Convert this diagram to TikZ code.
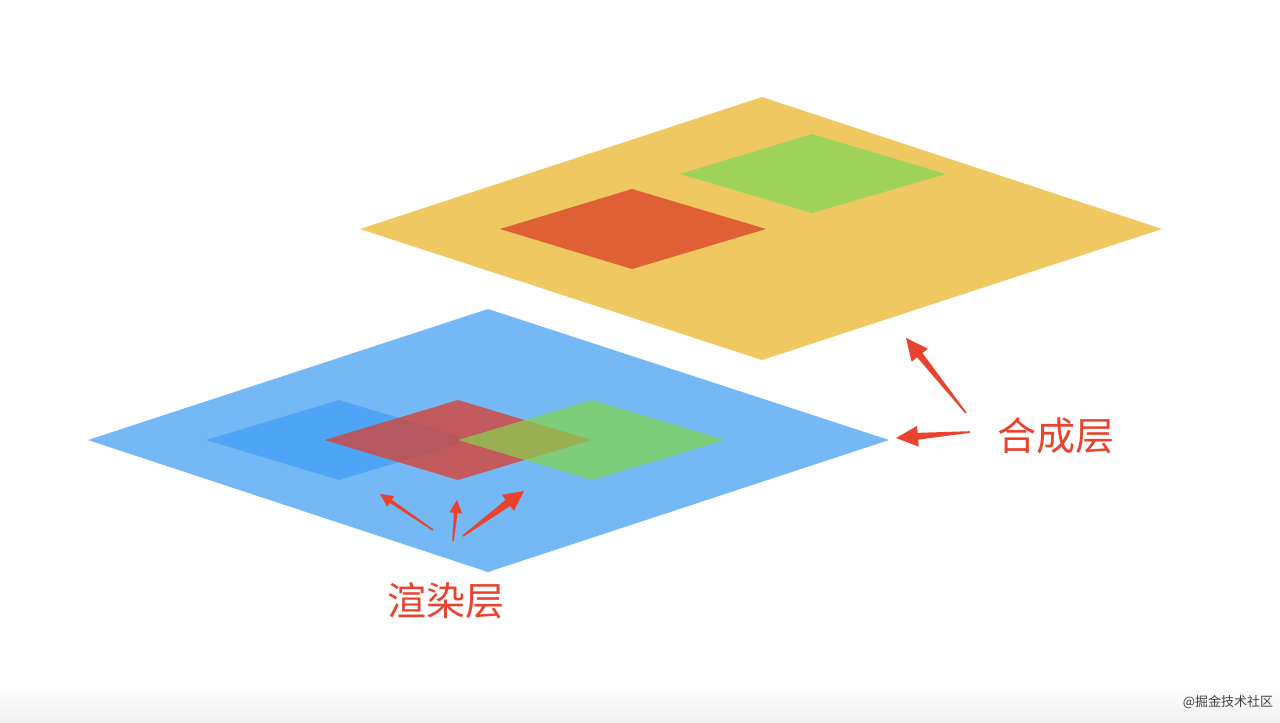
\documentclass[tikz,border=0pt]{standalone}
\usepackage{fontspec}
\newfontfamily\cjk{Noto Sans CJK SC}
\usetikzlibrary{calc}
\definecolor{yel}{HTML}{F0C862}
\definecolor{ygreen}{HTML}{9FD25A}
\definecolor{yred}{HTML}{E06035}
\definecolor{bbig}{HTML}{74B8F5}
\definecolor{bdark}{HTML}{4FA5F5}
\definecolor{bred}{HTML}{C35A5E}
\definecolor{bredd}{HTML}{B5585F}
\definecolor{bgreen}{HTML}{7DCD7A}
\definecolor{bolive}{HTML}{9AAE52}
\definecolor{arrowred}{HTML}{E8432D}
\tikzset{
  lbl/.style={text=arrowred, font=\cjk\fontsize{19.5pt}{22pt}\selectfont, inner sep=0pt},
  wm/.style={text=black!75, font=\cjk\fontsize{6.5pt}{8pt}\selectfont, inner sep=0pt}
}
% tapered arrow: #1 tail, #2 head, #3 shaft half width at head, #4 head half width, #5 head length
\newcommand\taperarrow[5]{%
  \fill[arrowred] ($(#1)!0.4pt!90:(#2)$)
    -- ($($(#2)!#5!(#1)$)!#3!-90:(#1)$)
    -- ($($(#2)!#5!(#1)$)!#4!-90:(#1)$)
    -- (#2)
    -- ($($(#2)!#5!(#1)$)!#4!90:(#1)$)
    -- ($($(#2)!#5!(#1)$)!#3!90:(#1)$)
    -- ($(#1)!0.4pt!-90:(#2)$) -- cycle;}
\begin{document}
\begin{tikzpicture}[x=0.5pt,y=-0.5pt]
\useasboundingbox (0,0) rectangle (1280,723);
\fill[white] (0,0) rectangle (1280,723);
\shade[top color=white, bottom color=black!6] (0,685) rectangle (1280,723);
% yellow composite layer
\fill[yel] (360,229) -- (762,97) -- (1162,229) -- (762,360) -- cycle;
\fill[ygreen] (680,174) -- (812,134) -- (946,174) -- (812,213) -- cycle;
\fill[yred] (500,229) -- (632,189) -- (766,229) -- (632,269) -- cycle;
% blue render layer
\fill[bbig] (88,440) -- (488,309) -- (889,440) -- (488,572) -- cycle;
\fill[bdark] (206,440) -- (339,400) -- (472,440) -- (339,480) -- cycle;
\fill[bred] (325,440) -- (458,400) -- (591,440) -- (458,480) -- cycle;
\fill[bredd] (325,440) -- (398.5,418) -- (472,440) -- (398.5,462) -- cycle;
\fill[bgreen] (459,440) -- (592,400) -- (725,440) -- (592,480) -- cycle;
\fill[bolive] (459,440) -- (525,420) -- (591,440) -- (525,460) -- cycle;
% labels
\node[lbl] (comp) at (1056,436) {合成层};
\node[lbl] (rend) at (446,601) {渲染层};
\node[wm] (mark) at (1228,702) {@掘金技术社区};
% arrow coordinates
\coordinate (t1) at (966,413); \coordinate (h1) at (906,338);
\coordinate (t2) at (970,432); \coordinate (h2) at (896,438);
\coordinate (t3) at (433,530); \coordinate (h3) at (380,494);
\coordinate (t4) at (453,541); \coordinate (h4) at (457,500);
\coordinate (t5) at (463,536); \coordinate (h5) at (524,491);
\taperarrow{t1}{h1}{1.7pt}{5.2pt}{11pt}
\taperarrow{t2}{h2}{1.7pt}{5.2pt}{11pt}
\taperarrow{t3}{h3}{0.9pt}{3.2pt}{6.5pt}
\taperarrow{t4}{h4}{0.9pt}{3.2pt}{6.5pt}
\taperarrow{t5}{h5}{1.9pt}{5pt}{10pt}
\end{tikzpicture}
\end{document}
